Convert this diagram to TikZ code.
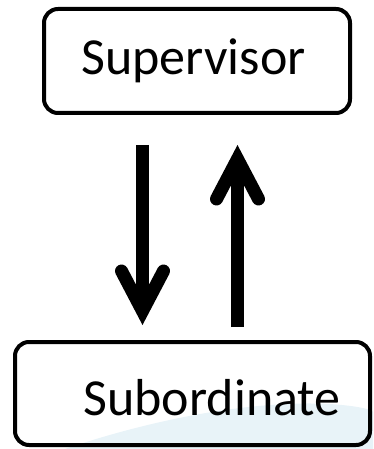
\documentclass[tikz,border=0pt]{standalone}
\usepackage{fontspec}
\setmainfont{Carlito}
\usetikzlibrary{arrows.meta}
\definecolor{paleblue}{RGB}{232,243,248}
\tikzset{
  box/.style={draw=black, line width=4pt, rounded corners=14pt, inner sep=0pt},
  lbl/.style={anchor=base, inner sep=0pt, font=\fontsize{52}{60}\selectfont},
  bigarrow/.style={line width=13pt, -{Straight Barb[line cap=round, line join=miter, length=40pt, width=42pt]}}
}
\begin{document}
\begin{tikzpicture}[x=1pt,y=-1pt]
\useasboundingbox (0,0) rectangle (373,449);
\fill[paleblue] (65,449) .. controls (150,420) and (250,400) .. (330,404) .. controls (360,406) and (373,410) .. (373,412) -- (373,449) -- cycle;
\node[box, minimum width=306pt, minimum height=104pt] (sup) at (197,61) {};
\node[box, minimum width=355pt, minimum height=103pt] (sub) at (192.5,393.5) {};
\node[lbl] (suptext) at (193.5,75) {Supervisor};
\node[lbl] (subtext) at (212,415) {Subordinate};
\coordinate (dx) at (142.5,0);
\coordinate (ux) at (237.5,0);
\draw[bigarrow, shorten <=30pt, shorten >=15pt] (sup.south -| dx) -- (sub.north -| dx);
\draw[bigarrow, shorten <=13pt, shorten >=30pt] (sub.north -| ux) -- (sup.south -| ux);
\end{tikzpicture}
\end{document}
